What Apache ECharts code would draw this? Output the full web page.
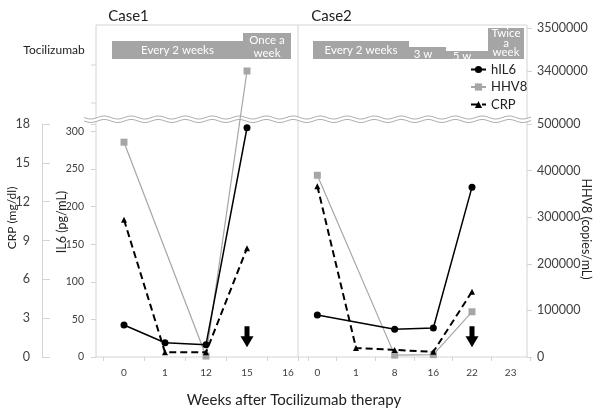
<!DOCTYPE html>
<html><head><meta charset="utf-8">
<script src="https://cdn.jsdelivr.net/npm/echarts@6/dist/echarts.min.js"></script>
<style>html,body{margin:0;padding:0;background:#fff}#c{width:600px;height:413px}</style>
</head><body><div id="c"></div>
<script>
// ---------- DATA ----------
const case1Weeks = ['0', '1', '12', '15', '16'];
const case2Weeks = ['0', '1', '8', '16', '22', '23'];
const case1IL6  = [42.5, 19, 16.4, 305, null];
const case1HHV8 = [461000, null, 2000, 3400000, null];
const case1CRP  = [10.6, 0.36, 0.36, 8.4, null];
const case2IL6  = [56, null, 37, 38.5, 226, null];
const case2HHV8 = [390000, null, 4000, 5000, 97000, null];
const case2CRP  = [13.2, 0.7, 0.55, 0.4, 5.05, null];
const case1Arrow = [null, null, null, 27, null];
const case2Arrow = [null, null, null, null, 27, null];
const crpAxis   = {min: 0, max: 18, interval: 3};
const il6Axis   = {min: 0, max: 310, interval: 50};
const hhv8Lower = {min: 0, max: 500000, interval: 100000};
const hhv8Upper = {min: 3400000, max: 3500000, interval: 100000};
const case1Schedule = ['Every 2 weeks', 'Once a\nweek'];
const case2Schedule = ['Every 2 weeks', '3 w', '5 w', 'Twice\na\nweek'];
const seriesNames = ['hIL6', 'HHV8', 'CRP'];
const panelTitles = ['Case1', 'Case2'];
const xTitle = 'Weeks after Tocilizumab therapy';
const drugName = 'Tocilizumab';
const axisNames = ['CRP (mg/dl)', 'IL6 (pg/mL)', 'HHV8 (copies/mL)'];

// ---------- STYLE / LAYOUT ----------
const FONT = 'Lato, "Open Sans", sans-serif';
const FRAME = '#d4d4d4';
const LBL = '#404040';
const HGRAY = '#a6a6a6';
const BAR = '#a5a5a5';

const chart = echarts.init(document.getElementById('c'), null, {renderer: 'canvas'});

const case1Points = case1HHV8.map((v, i) => v == null ? null : [i, v]).filter(Boolean);
function hhv8Pixel(p) {
  const finder = p[1] > hhv8Lower.max ? {xAxisIndex: 2, yAxisIndex: 6} : {xAxisIndex: 0, yAxisIndex: 2};
  return chart.convertToPixel(finder, p);
}

function wave(y0) {
  const pts = [];
  for (let x = 84; x <= 531; x += 1) pts.push([x, y0 + 1.5 * Math.sin((x - 84) / 27 * 2 * Math.PI)]);
  return pts;
}
const w1 = wave(117.5), w2 = wave(121);

const gridBase = {containLabel: false, outerBoundsMode: 'none'};
const grids = [
  Object.assign({left: 103.5, top: 124, width: 205, height: 233}, gridBase),
  Object.assign({left: 298, top: 124, width: 232, height: 233}, gridBase),
  Object.assign({left: 103.5, top: 28, width: 205, height: 43}, gridBase),
  Object.assign({left: 298, top: 28, width: 232, height: 43}, gridBase)
];

function xAx(gi, cats, show) {
  return {
    type: 'category', gridIndex: gi, data: cats, boundaryGap: true, show: show,
    axisLine: {show: false},
    axisTick: {show: true, length: 4, lineStyle: {color: FRAME}},
    axisLabel: {interval: 0, fontSize: 10, color: LBL, margin: 11, fontFamily: FONT},
    splitLine: {show: false}
  };
}
function hiddenY(gi, r) {
  return {type: 'value', gridIndex: gi, min: r.min, max: r.max, interval: r.interval, show: false, splitLine: {show: false}};
}

const yAxes = [
  { // 0 IL6 case1 (visible)
    type: 'value', gridIndex: 0, position: 'left', offset: 7.5,
    min: il6Axis.min, max: il6Axis.max, interval: il6Axis.interval,
    axisLine: {show: false}, splitLine: {show: false},
    axisTick: {show: true, length: 5, lineStyle: {color: FRAME}},
    axisLabel: {fontSize: 10.5, color: LBL, margin: 12, fontFamily: FONT,
      formatter: v => (v % il6Axis.interval === 0 ? String(v) : '')}
  },
  { // 1 CRP case1 (visible)
    type: 'value', gridIndex: 0, position: 'left', offset: 61.5,
    min: crpAxis.min, max: crpAxis.max, interval: crpAxis.interval,
    axisLine: {show: true, lineStyle: {color: FRAME}}, splitLine: {show: false},
    axisTick: {show: true, inside: true, length: 8, lineStyle: {color: FRAME}},
    axisLabel: {fontSize: 12.5, color: LBL, margin: 12, fontFamily: FONT}
  },
  hiddenY(0, hhv8Lower),   // 2 HHV8 lower case1
  hiddenY(1, il6Axis),     // 3 IL6 case2
  hiddenY(1, crpAxis),     // 4 CRP case2
  { // 5 HHV8 lower (visible, right)
    type: 'value', gridIndex: 1, position: 'right', offset: -3,
    min: hhv8Lower.min, max: hhv8Lower.max, interval: hhv8Lower.interval,
    axisLine: {show: false}, splitLine: {show: false},
    axisTick: {show: true, length: 5, lineStyle: {color: FRAME}},
    axisLabel: {fontSize: 12.5, color: LBL, margin: 10, fontFamily: FONT, formatter: v => String(v)}
  },
  hiddenY(2, hhv8Upper),   // 6 HHV8 upper case1
  { // 7 HHV8 upper (visible, right)
    type: 'value', gridIndex: 3, position: 'right', offset: -3,
    min: hhv8Upper.min, max: hhv8Upper.max, interval: hhv8Upper.interval,
    axisLine: {show: false}, splitLine: {show: false},
    axisTick: {show: true, length: 5, lineStyle: {color: FRAME}},
    axisLabel: {fontSize: 12.5, color: LBL, margin: 10, fontFamily: FONT, formatter: v => String(v)}
  }
];

const il6Style = {type: 'line', name: seriesNames[0], symbol: 'circle', symbolSize: 7, connectNulls: true,
  itemStyle: {color: '#000'}, lineStyle: {color: '#000', width: 1.5}, z: 4};
const hhvStyle = {type: 'line', name: seriesNames[1], symbol: 'rect', symbolSize: 7, connectNulls: true,
  itemStyle: {color: HGRAY}, lineStyle: {color: HGRAY, width: 1.2}, z: 3};
const crpStyle = {type: 'line', name: seriesNames[2], symbol: 'triangle', symbolSize: 6, connectNulls: true,
  itemStyle: {color: '#000'}, lineStyle: {color: '#000', width: 2, type: [7, 4]}, z: 5};
const arrowPath = 'path://M4,0 L9,0 L9,10 L13,10 L6.5,21 L0,10 L4,10 Z';
const arrowStyle = {type: 'scatter', symbol: arrowPath, symbolSize: [13, 21], itemStyle: {color: '#000', opacity: 1}, z: 6, silent: true};

const series = [
  Object.assign({xAxisIndex: 0, yAxisIndex: 0, data: case1IL6}, il6Style),
  Object.assign({xAxisIndex: 1, yAxisIndex: 3, data: case2IL6}, il6Style),
  Object.assign({xAxisIndex: 1, yAxisIndex: 5, data: case2HHV8}, hhvStyle),
  Object.assign({xAxisIndex: 0, yAxisIndex: 1, data: case1CRP}, crpStyle),
  Object.assign({xAxisIndex: 1, yAxisIndex: 4, data: case2CRP}, crpStyle),
  {
    type: 'custom', name: seriesNames[1], xAxisIndex: 0, yAxisIndex: 2, z: 3,
    data: case1Points, encode: {x: 0, y: 1},
    renderItem: function (params, api) {
      const i = params.dataIndex;
      const cur = hhv8Pixel(case1Points[i]);
      const children = [];
      if (i > 0) {
        const prev = hhv8Pixel(case1Points[i - 1]);
        children.push({type: 'line', shape: {x1: prev[0], y1: prev[1], x2: cur[0], y2: cur[1]},
          style: {stroke: HGRAY, lineWidth: 1.2}});
      }
      children.push({type: 'rect', shape: {x: cur[0] - 3.5, y: cur[1] - 3.5, width: 7, height: 7}, style: {fill: HGRAY}});
      return {type: 'group', children: children};
    }
  },
  Object.assign({name: 'arrow1', xAxisIndex: 0, yAxisIndex: 0, data: case1Arrow}, arrowStyle),
  Object.assign({name: 'arrow2', xAxisIndex: 1, yAxisIndex: 3, data: case2Arrow}, arrowStyle)
];

// layout of decorations
const frameLines = [[96, 25, 527, 25], [96, 25, 96, 357], [298, 25, 298, 357], [527, 25, 527, 357], [96, 357, 527, 357],
  [91, 65, 96, 65], [91, 103, 96, 103]];
const case1BarBoxes = [{x0: 112, x1: 243, y0: 41, tx: 177.5, ty: 50, lh: 13}, {x0: 243, x1: 291, y0: 33, tx: 267, ty: 46.5, lh: 13}];
const case2BarBoxes = [{x0: 313, x1: 409, y0: 41, tx: 361, ty: 50, lh: 13}, {x0: 409, x1: 446, y0: 47, tx: 423, ty: 54, lh: 13},
  {x0: 446, x1: 488, y0: 51, tx: 462, ty: 56.5, lh: 13}, {x0: 488, x1: 524, y0: 28, tx: 506, ty: 43, lh: 9.5}];
const barBottom = 59;

const graphic = [];
frameLines.forEach(l => graphic.push({type: 'line', shape: {x1: l[0], y1: l[1], x2: l[2], y2: l[3]}, style: {stroke: FRAME, lineWidth: 1}, z: 0}));
graphic.push({type: 'polygon', shape: {points: w1.concat(w2.slice().reverse())}, style: {fill: '#fff'}, z: 1});
graphic.push({type: 'polyline', shape: {points: w1}, style: {stroke: '#9a9a9a', lineWidth: 0.8, fill: null}, z: 1});
graphic.push({type: 'polyline', shape: {points: w2}, style: {stroke: '#9a9a9a', lineWidth: 0.8, fill: null}, z: 1});
[[case1BarBoxes, case1Schedule], [case2BarBoxes, case2Schedule]].forEach(([boxes, labels]) => {
  boxes.forEach((b, i) => {
    graphic.push({type: 'rect', shape: {x: b.x0, y: b.y0, width: b.x1 - b.x0, height: barBottom - b.y0}, style: {fill: BAR}, z: 1});
    graphic.push({type: 'text', x: b.tx, y: b.ty, z: 2, style: {text: labels[i], fill: '#fff', font: '11.5px ' + FONT,
      textAlign: 'center', textVerticalAlign: 'middle', lineHeight: b.lh}});
  });
});
graphic.push({type: 'text', x: 54, y: 50, style: {text: drugName, fill: '#222', font: '12px ' + FONT, textAlign: 'center', textVerticalAlign: 'middle'}});
graphic.push({type: 'text', x: 128.5, y: 16, style: {text: panelTitles[0], fill: '#222', font: '15px ' + FONT, textAlign: 'center', textVerticalAlign: 'middle'}});
graphic.push({type: 'text', x: 331.5, y: 16, style: {text: panelTitles[1], fill: '#222', font: '15px ' + FONT, textAlign: 'center', textVerticalAlign: 'middle'}});
graphic.push({type: 'text', x: 294, y: 400, style: {text: xTitle, fill: '#222', font: '15px ' + FONT, textAlign: 'center', textVerticalAlign: 'middle'}});
graphic.push({type: 'text', x: 12, y: 218, rotation: Math.PI / 2, style: {text: axisNames[0], fill: '#222', font: '12px ' + FONT, textAlign: 'center', textVerticalAlign: 'middle'}});
graphic.push({type: 'text', x: 61.5, y: 222, rotation: Math.PI / 2, style: {text: axisNames[1], fill: '#222', font: '12.5px ' + FONT, textAlign: 'center', textVerticalAlign: 'middle'}});
graphic.push({type: 'text', x: 586, y: 229, rotation: -Math.PI / 2, style: {text: axisNames[2], fill: '#222', font: '12.5px ' + FONT, textAlign: 'center', textVerticalAlign: 'middle'}});

chart.setOption({
  animation: false,
  backgroundColor: '#fff',
  textStyle: {fontFamily: FONT},
  grid: grids,
  xAxis: [xAx(0, case1Weeks, true), xAx(1, case2Weeks, true), xAx(2, case1Weeks, false), xAx(3, case2Weeks, false)],
  yAxis: yAxes,
  legend: {
    data: seriesNames, orient: 'vertical', left: 470, top: 63, itemGap: 4.5, itemWidth: 15, itemHeight: 9,
    selectedMode: false, textStyle: {fontSize: 13, color: '#222', fontFamily: FONT}, padding: 0
  },
  series: series,
  graphic: graphic
});
</script></body></html>
